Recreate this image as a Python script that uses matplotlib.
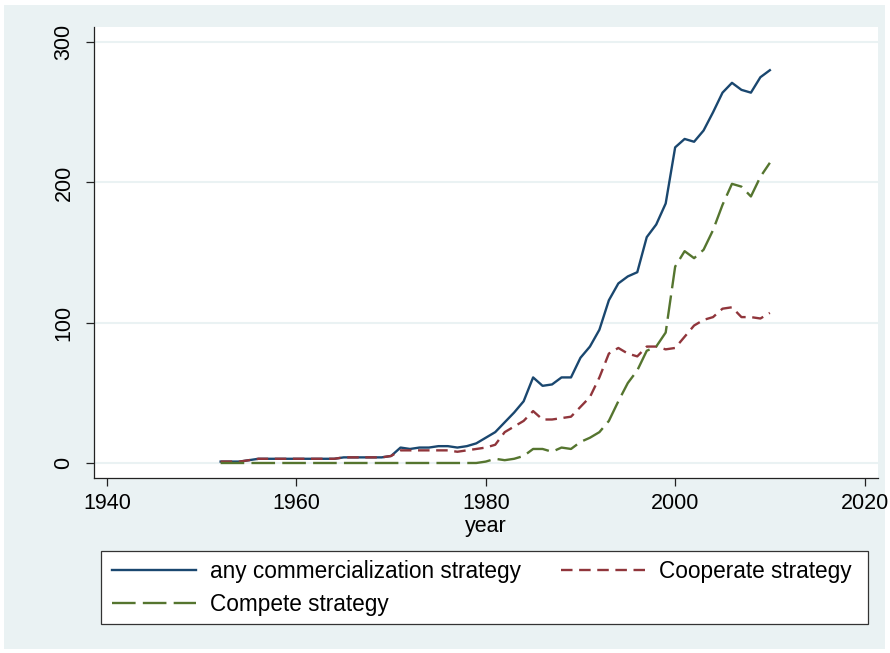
import matplotlib
matplotlib.use("Agg")
import matplotlib.pyplot as plt
from matplotlib.patches import Rectangle

plt.rcParams['font.family'] = ['Liberation Sans', 'DejaVu Sans']
plt.rcParams['lines.scale_dashes'] = False

years = list(range(1952, 2011))
any_strategy = [1, 1, 1, 2, 3, 3, 3, 3, 3, 3, 3, 3, 3, 4, 4, 4, 4, 4, 5,
                11, 10, 11, 11, 12, 12, 11, 12, 14, 18,
                22, 29, 36, 44, 61, 55, 56, 61, 61, 75,
                83, 95, 116, 128, 133, 136, 161, 170, 185, 225,
                231, 229, 237, 250, 264, 271, 266, 264, 275, 280]
cooperate = [1, 1, 1, 2, 3, 3, 3, 3, 3, 3, 3, 3, 3, 4, 4, 4, 4, 4, 5,
             9, 9, 9, 9, 9, 9, 8, 9, 10, 11,
             13, 22, 26, 30, 37, 31, 31, 32, 33, 40,
             47, 61, 78, 82, 78, 76, 83, 83, 81, 82,
             90, 98, 102, 104, 110, 111, 104, 104, 103, 107]
compete = [0, 0, 0, 0, 0, 0, 0, 0, 0, 0, 0, 0, 0, 0, 0, 0, 0, 0, 0,
           0, 0, 0, 0, 0, 0, 0, 0, 0, 1,
           3, 2, 3, 5, 10, 10, 8, 11, 10, 15,
           18, 22, 30, 44, 57, 66, 80, 83, 93, 140,
           151, 146, 152, 166, 184, 199, 197, 190, 204, 214]

labels = ["any commercialization strategy", "Cooperate strategy", "Compete strategy"]
colors = ["#1A476F", "#90353B", "#55752F"]
x_ticks = [1940, 1960, 1980, 2000, 2020]
y_ticks = [0, 100, 200, 300]

W, H = 890, 653
fig = plt.figure(figsize=(W / 100, H / 100), dpi=100)
fig.patch.set_facecolor("white")
bg = Rectangle((4 / W, 4 / H), 1 - 9 / W, 1 - 9 / H, transform=fig.transFigure,
               facecolor="#EAF2F3", edgecolor="none", zorder=-10)
fig.patches.append(bg)

ax = fig.add_axes([94 / W, 1 - 478 / H, (878 - 94) / W, (478 - 27) / H])
ax.set_zorder(1)
ax.set_facecolor("white")

LW = 1.7
ax.plot(years, any_strategy, color=colors[0], lw=LW, solid_joinstyle="round", label=labels[0])
l2, = ax.plot(years, cooperate, color=colors[1], lw=LW, label=labels[1])
l2.set_dashes((8.3, 4.75))
l3, = ax.plot(years, compete, color=colors[2], lw=LW, label=labels[2])
l3.set_dashes((17, 5.2))

ax.set_xlim(1938.63, 2021.42)
ax.set_ylim(-10.7, 310.8)
ax.set_xticks(x_ticks)
ax.set_yticks(y_ticks)
ax.yaxis.grid(True, color="#EAF2F3", lw=1.5)
ax.set_axisbelow(True)
for s in ["top", "right"]:
    ax.spines[s].set_visible(False)
for s in ["left", "bottom"]:
    ax.spines[s].set_color("#222222")
    ax.spines[s].set_linewidth(0.9)
ax.tick_params(axis="both", direction="out", length=6, width=0.9, color="#222222",
               labelsize=15.5, labelcolor="black")
ax.tick_params(axis="y", labelrotation=90, pad=8)
ax.tick_params(axis="x", pad=5)
for t in ax.get_yticklabels():
    t.set_va("center")
ax.set_xlabel("year", fontsize=15.5, labelpad=1)

# legend box
fig.patches.append(Rectangle((101 / W, 1 - 624 / H), (868 - 101) / W, (624 - 551) / H,
                             transform=fig.transFigure, facecolor="white",
                             edgecolor="#333333", lw=0.9, zorder=1))
h = ax.get_legend_handles_labels()[0]
leg = fig.legend([h[0], h[2], h[1]], [labels[0], labels[2], labels[1]], ncol=2,
                 loc="upper left", bbox_to_anchor=(112 / W, 1 - 560 / H),
                 frameon=False, fontsize=16.3, handlelength=3.7, handletextpad=0.62,
                 columnspacing=1.77, labelspacing=0.44, borderpad=0, borderaxespad=0)
leg.set_zorder(2)

fig.savefig("out.png", dpi=100, facecolor=fig.get_facecolor())
